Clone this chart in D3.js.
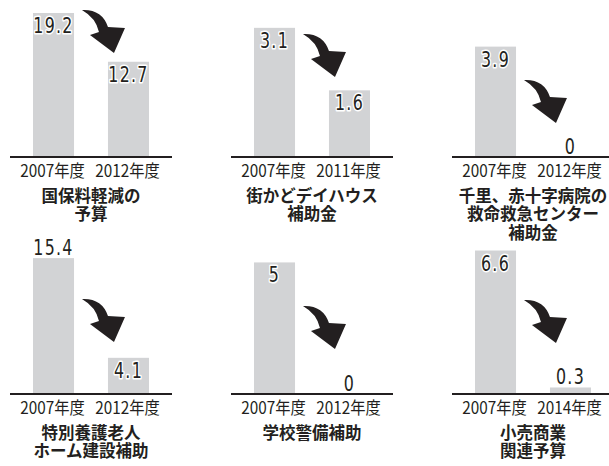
<!DOCTYPE html>
<html>
<head>
<meta charset="utf-8">
<script src="https://cdn.jsdelivr.net/npm/d3@7"></script>
<style>
  html, body { margin: 0; padding: 0; background: #fff; }
  svg { display: block; }
</style>
</head>
<body>
<svg id="chart" width="609" height="466"></svg>
<script>
// Budget items: amount in the earlier fiscal year vs. the later one
const panelTitles = [
  ["国保料軽減の", "予算"],
  ["街かどデイハウス", "補助金"],
  ["千里、赤十字病院の", "救命救急センター", "補助金"],
  ["特別養護老人", "ホーム建設補助"],
  ["学校警備補助"],
  ["小売商業", "関連予算"]
];
const fromYears = ["2007年度", "2007年度", "2007年度", "2007年度", "2007年度", "2007年度"];
const toYears   = ["2012年度", "2011年度", "2012年度", "2012年度", "2012年度", "2014年度"];
const fromValues = [19.2, 3.1, 3.9, 15.4, 5, 6.6];
const toValues   = [12.7, 1.6, 0, 4.1, 0, 0.3];
// each panel has its own value axis
const scaleMax = [20, 3.6, 5.3, 17, 5.7, 6.9];

// layout
const colStep = 221, rowStep = 237;
const axisX0 = 10, axisLen = 162;
const baseTop = 157, plotH = 150;
const arrowLift = [104, 80, 34, 52, 45, 51];   // arrow tip height above the axis line
const outsideLabel = new Set(["3-0"]);          // value labels set above their bar

const ink = "#231f20";
const barFill = "#d2d3d5";
const numFont = "'DejaVu Sans Condensed', 'DejaVu Sans', sans-serif";
const jpFont = "'Noto Sans CJK JP', 'Noto Sans', sans-serif";

const svg = d3.select("#chart");

panelTitles.forEach((title, i) => {
  const col = i % 3, row = Math.floor(i / 3);
  const x0 = axisX0 + col * colStep;
  const base = baseTop + row * rowStep;
  const g = svg.append("g");

  const cats = [fromYears[i], toYears[i]].map((y, k) => k + "|" + y);
  const vals = [fromValues[i], toValues[i]];

  const x = d3.scaleBand()
    .domain(cats)
    .range([x0, x0 + axisLen])
    .paddingInner(0.453)
    .paddingOuter(0.307);
  const y = d3.scaleLinear()
    .domain([0, scaleMax[i]])
    .range([base, base - plotH]);

  const data = cats.map((c, k) => ({ key: c, value: vals[k], k }));

  // bars
  g.selectAll("rect.bar")
    .data(data)
    .join("rect")
    .attr("class", "bar")
    .attr("x", d => x(d.key))
    .attr("y", d => y(d.value))
    .attr("width", x.bandwidth())
    .attr("height", d => base - y(d.value))
    .attr("fill", barFill);

  // value labels (narrowed digits, white halo over the bar)
  g.selectAll("text.val")
    .data(data)
    .join("text")
    .attr("class", "val")
    .attr("transform", d => {
      const top = y(d.value);
      const outside = outsideLabel.has(i + "-" + d.k) || base - top < 24;
      const ty = outside ? top - 3 : top + 20;
      return `translate(${x(d.key) + x.bandwidth() / 2},${ty}) scale(0.84,1)`;
    })
    .attr("text-anchor", "middle")
    .attr("font-family", numFont)
    .attr("font-size", 21)
    .attr("letter-spacing", 1.5)
    .attr("fill", ink)
    .attr("stroke", "#fff")
    .attr("stroke-width", 3)
    .attr("stroke-linejoin", "round")
    .attr("paint-order", "stroke")
    .text(d => String(d.value));

  // axis line with year labels
  const axis = d3.axisBottom(x)
    .tickSize(0)
    .tickPadding(6)
    .tickFormat(c => c.split("|")[1]);
  const ax = g.append("g")
    .attr("transform", `translate(0,${base})`)
    .call(axis);
  ax.select(".domain")
    .attr("d", `M${x0},0H${x0 + axisLen}`)
    .attr("stroke", ink)
    .attr("stroke-width", 2);
  ax.selectAll(".tick text")
    .attr("y", 0)
    .attr("dy", null)
    .attr("transform", "translate(-1,13) scale(0.9,1)")
    .attr("dominant-baseline", "central")
    .attr("font-family", jpFont)
    .attr("font-size", 17)
    .attr("fill", ink);

  // title under the axis, one text with a line per tspan
  const cx = (x(cats[0]) + x(cats[1]) + x.bandwidth()) / 2;
  g.append("text")
    .attr("class", "title")
    .attr("text-anchor", "middle")
    .attr("font-family", jpFont)
    .attr("font-size", 16.5)
    .attr("font-weight", 700)
    .attr("fill", ink)
    .selectAll("tspan")
    .data(title)
    .join("tspan")
    .attr("x", cx)
    .attr("y", (t, j) => base + 44.5 + j * 18.5)
    .text(t => t);

  // curved arrow pointing down toward the later bar
  const tipX = x(cats[1]) + 6;
  const tipY = base - arrowLift[i];
  const arrow = "M-32,-43 Q-12,-44 -6,-26 L11,-25 L0,0 L-24,-18 L-15,-21 Q-18,-35 -32,-43 Z";
  g.append("path")
    .attr("d", arrow)
    .attr("transform", `translate(${tipX},${tipY})`)
    .attr("fill", ink);
});
</script>
</body>
</html>
